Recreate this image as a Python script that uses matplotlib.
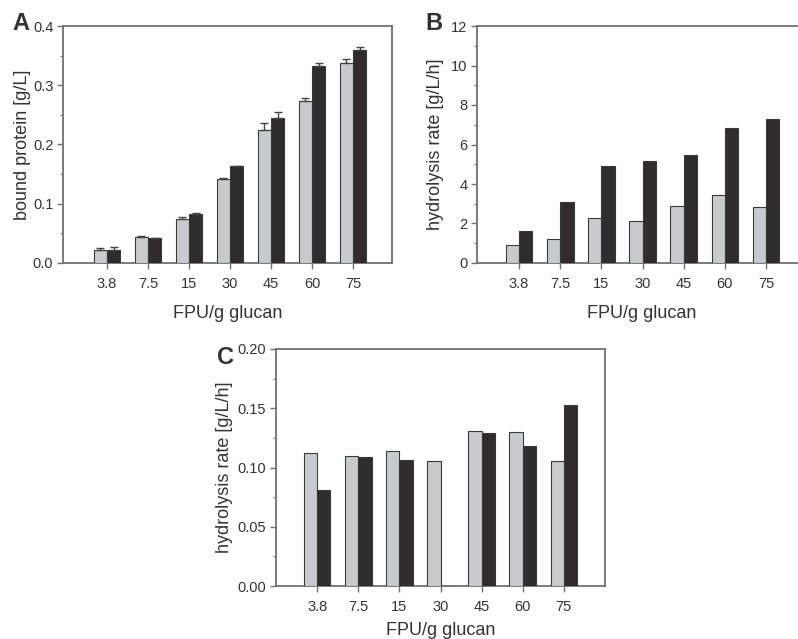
import numpy as np
import matplotlib
matplotlib.use("Agg")
import matplotlib.pyplot as plt

plt.rcParams['font.family'] = ['Liberation Sans', 'DejaVu Sans']

loads = ['3.8', '7.5', '15', '30', '45', '60', '75']

# panel A: bound protein [g/L]
a_gray = [0.022, 0.044, 0.075, 0.141, 0.225, 0.274, 0.337]
a_gray_err = [0.004, 0.002, 0.003, 0.003, 0.012, 0.004, 0.007]
a_dark = [0.022, 0.042, 0.083, 0.163, 0.244, 0.332, 0.360]
a_dark_err = [0.005, 0.001, 0.001, 0.001, 0.011, 0.006, 0.005]

# panel B: hydrolysis rate [g/L/h]
b_gray = [0.91, 1.21, 2.29, 2.15, 2.90, 3.42, 2.85]
b_dark = [1.60, 3.11, 4.90, 5.17, 5.45, 6.85, 7.27]

# panel C: hydrolysis rate [g/L/h]
c_gray = [0.1125, 0.110, 0.114, 0.1058, 0.1306, 0.1298, 0.1058]
c_dark = [0.081, 0.109, 0.1066, 0.0, 0.129, 0.118, 0.1526]

W, H = 798, 639
fig = plt.figure(figsize=(W / 100, H / 100), dpi=100)

GRAY = '#c9cacd'
DARK = '#302c2d'
EDGE = '#3a3a3a'
SPINE = '#707070'
TXT = '#333333'
bw = 0.325


def px_axes(left, top, right, bottom):
    return fig.add_axes([left / W, 1 - bottom / H, (right - left) / W, (bottom - top) / H])


def style(ax, ylim, major, minor, fmt, xlim):
    x = np.arange(1, len(loads) + 1)
    ax.set_xlim(*xlim)
    ax.set_ylim(*ylim)
    ax.set_xticks(x)
    ax.set_xticklabels(loads)
    ax.set_yticks(np.arange(ylim[0], ylim[1] + major / 2, major))
    ax.set_yticks(np.arange(ylim[0], ylim[1] + minor / 2, minor), minor=True)
    ax.yaxis.set_major_formatter(matplotlib.ticker.FormatStrFormatter(fmt))
    ax.tick_params(axis='both', which='major', direction='out', length=4, width=1,
                   color=SPINE, labelsize=10.5, labelcolor=TXT)
    ax.tick_params(axis='x', which='major', pad=6)
    ax.tick_params(axis='y', which='major', pad=3)
    ax.tick_params(axis='y', which='minor', direction='out', length=2.5, width=0.8, color=SPINE)
    ax.tick_params(axis='x', which='minor', length=0)
    for s in ax.spines.values():
        s.set_color(SPINE)
        s.set_linewidth(1.3)
    ax.set_xlabel('FPU/g glucan', fontsize=13, color=TXT, labelpad=10)


def bars(ax, gray, dark, gerr=None, derr=None):
    x = np.arange(1, len(loads) + 1)
    ek = dict(ecolor='#444444', elinewidth=1, capsize=3, capthick=1)
    ax.bar(x - bw / 2, gray, bw, color=GRAY, edgecolor=EDGE, linewidth=0.8,
           yerr=None if gerr is None else [np.zeros(len(gerr)), gerr], error_kw=ek, zorder=3)
    ax.bar(x + bw / 2, dark, bw, color=DARK, edgecolor=EDGE, linewidth=0.8,
           yerr=None if derr is None else [np.zeros(len(derr)), derr], error_kw=ek, zorder=3)


# A
axA = px_axes(63, 26, 392, 263)
bars(axA, a_gray, a_dark, a_gray_err, a_dark_err)
style(axA, (0, 0.4), 0.1, 0.05, '%.1f', (-0.07, 7.95))
axA.set_ylabel('bound protein [g/L]', fontsize=13, color=TXT, labelpad=1)
fig.text(21 / W, 1 - 24 / H, 'A', fontsize=17, fontweight='bold', color=TXT,
         ha='center', va='center')

# B
axB = px_axes(477, 26, 806, 263)
bars(axB, b_gray, b_dark)
style(axB, (0, 12), 2, 1, '%d', (-0.02, 7.97))
axB.set_ylabel('hydrolysis rate [g/L/h]', fontsize=13, color=TXT, labelpad=5)
fig.text(434 / W, 1 - 24 / H, 'B', fontsize=17, fontweight='bold', color=TXT,
         ha='center', va='center')

# C
axC = px_axes(276, 349, 605, 586)
bars(axC, c_gray, c_dark)
style(axC, (0, 0.2), 0.05, 0.025, '%.2f', (0.0, 8.0))
axC.set_ylabel('hydrolysis rate [g/L/h]', fontsize=13, color=TXT, labelpad=3)
axC.xaxis.labelpad = 6
fig.text(225 / W, 1 - 357 / H, 'C', fontsize=17, fontweight='bold', color=TXT,
         ha='center', va='center')

fig.savefig('out.png', dpi=100)
